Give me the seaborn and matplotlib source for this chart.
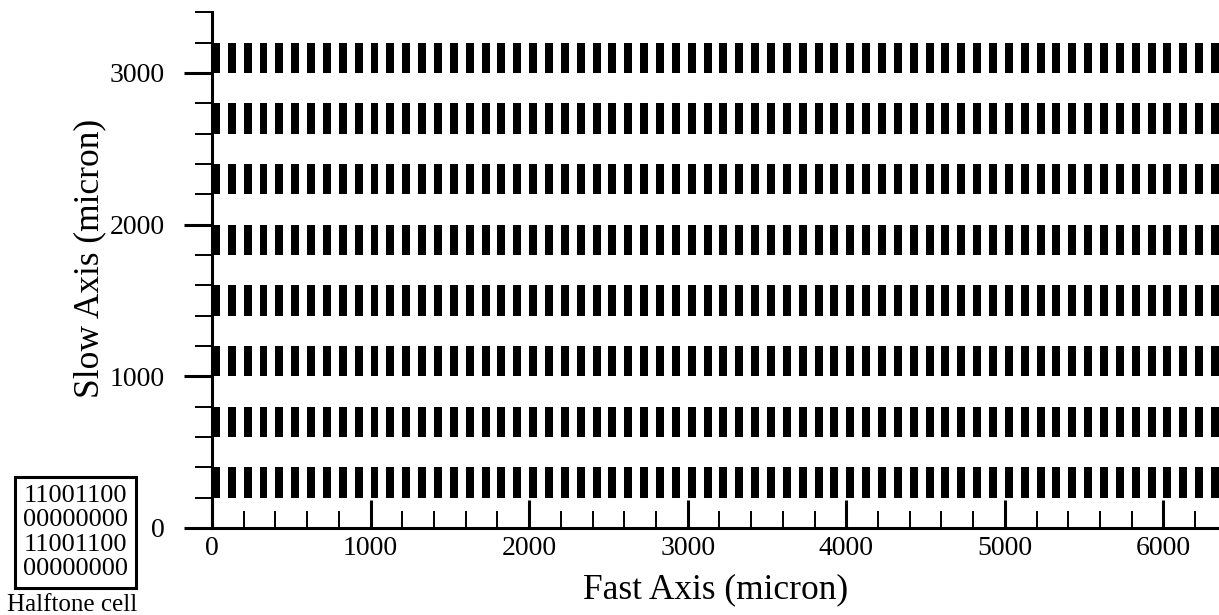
import numpy as np
import pandas as pd
import matplotlib
matplotlib.use('Agg')
import seaborn as sns
import matplotlib.pyplot as plt
from matplotlib.ticker import MultipleLocator

# halftone cell printed in the lower left corner
cell_rows = ["11001100", "00000000", "11001100", "00000000"]

# bar rows along the slow axis (bottom edge, micron) and bar starts along the fast axis
row_bottom = [200, 600, 1000, 1400, 1800, 2200, 2600, 3000]
bar_left = list(range(0, 6400, 100))
bar_width = 50
bar_height = 200

sns.set_theme(style="ticks")
plt.rcParams['font.family'] = ['Liberation Serif', 'DejaVu Serif']
plt.rcParams['text.color'] = 'black'
plt.rcParams['axes.labelcolor'] = 'black'

db = pd.DataFrame([(x, y) for y in row_bottom for x in bar_left],
                  columns=["fast", "slow"])

fig = plt.figure(figsize=(12.19, 6.15), dpi=100)
ax = fig.add_axes([0.1739, 0.1415, 0.8261, 0.8385])

ax.bar(db["fast"], bar_height, width=bar_width, bottom=db["slow"],
       align="edge", color="black", linewidth=0)

ax.set_xlim(0, 6350)
ax.set_ylim(0, 3400)
ax.xaxis.set_major_locator(MultipleLocator(1000))
ax.xaxis.set_minor_locator(MultipleLocator(200))
ax.yaxis.set_major_locator(MultipleLocator(1000))
ax.yaxis.set_minor_locator(MultipleLocator(200))

ax.tick_params(axis="x", which="both", direction="in", pad=6, labelsize=20, colors="black")
ax.tick_params(axis="y", which="both", direction="out", pad=14, labelsize=20, colors="black")
ax.tick_params(which="major", length=20, width=2.2)
ax.tick_params(which="minor", length=12, width=1.4)

sns.despine(ax=ax)
for s in ["left", "bottom"]:
    ax.spines[s].set_linewidth(2.2)
    ax.spines[s].set_color("black")

ax.set_xlabel("Fast Axis (micron)", fontsize=25.5, labelpad=9)
ax.set_ylabel("Slow Axis (micron)", fontsize=25.5, labelpad=3)
ax.yaxis.set_label_coords(-0.105, 0.523)

# halftone cell box
fig.text(0.0619, 0.134, "\n".join(cell_rows), fontsize=19, ha="center", va="center",
         linespacing=1.15,
         bbox=dict(boxstyle="square,pad=0.3", fc="white", ec="black", lw=2.2))
fig.text(0.0595, 0.016, "Halftone cell", fontsize=18, ha="center", va="center")

fig.savefig("out.png", dpi=100)
